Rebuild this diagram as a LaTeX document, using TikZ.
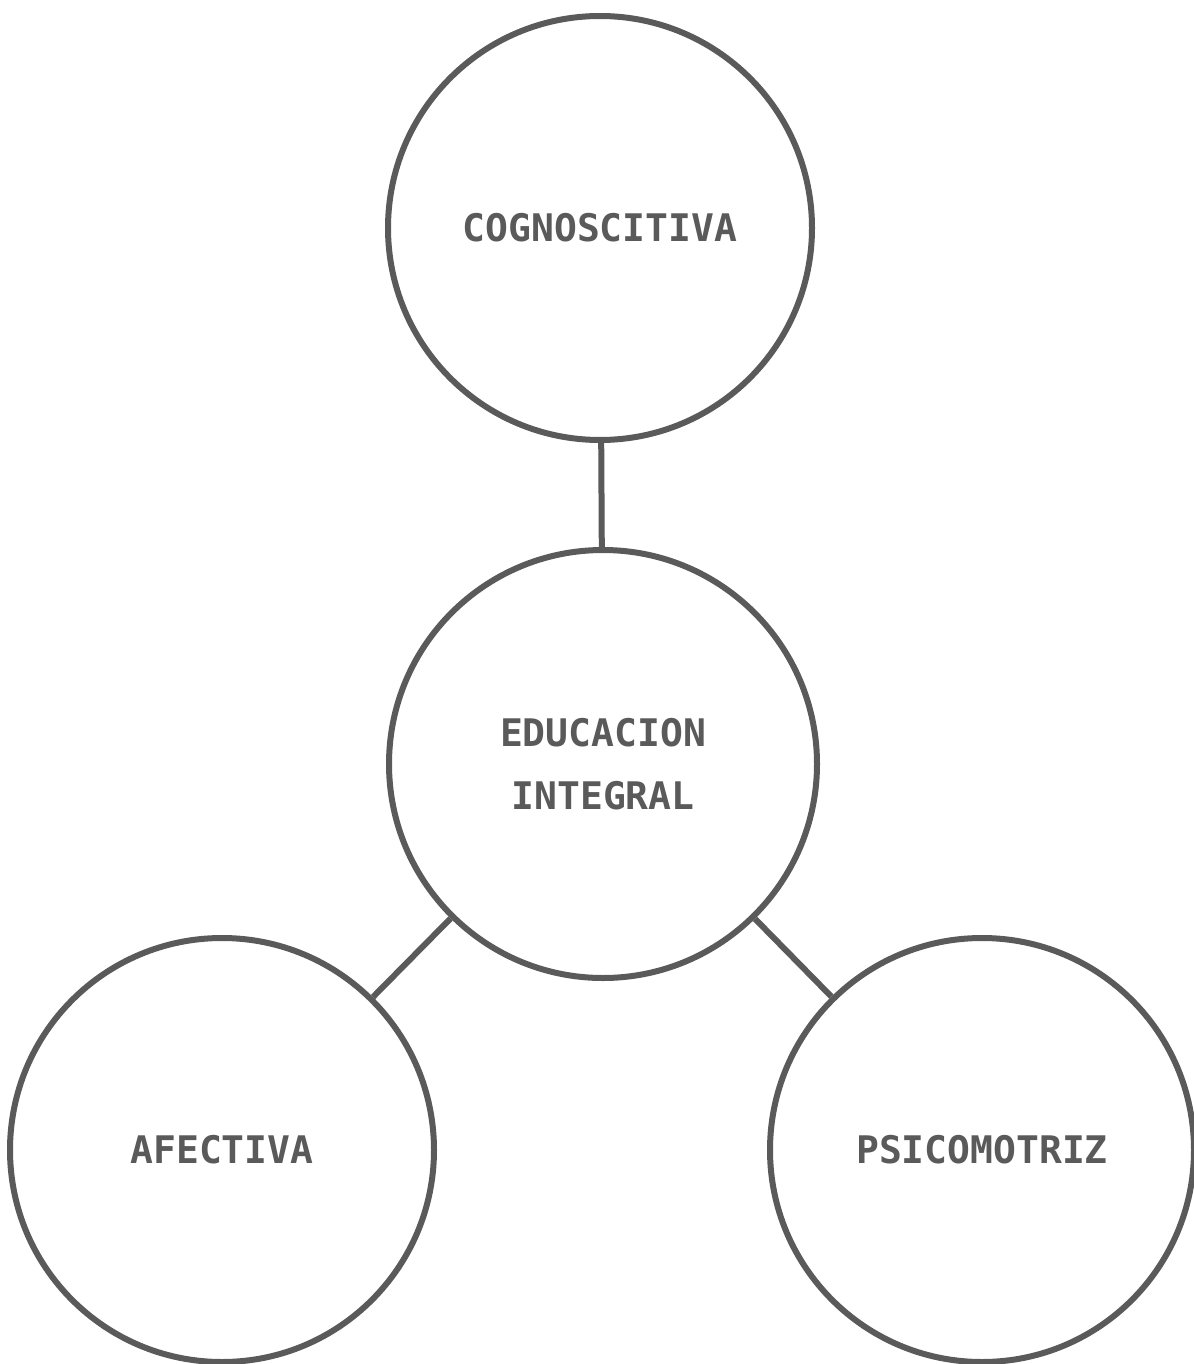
\documentclass[tikz,border=0pt]{standalone}
\usepackage{fontspec}
\newfontfamily\plotfont{DejaVu Sans Mono}[BoldFont={* Bold}]
\definecolor{ink}{HTML}{5A5A5A}
\begin{document}
\begin{tikzpicture}[x=0.5pt,y=-0.5pt,
  bubble/.style={circle,draw=ink,line width=3pt,minimum size=212pt,inner sep=0pt,
    font=\plotfont\bfseries\fontsize{19}{31.5}\selectfont,text=ink,align=center},
  link/.style={draw=ink,line width=3pt}]
\useasboundingbox (0,0) rectangle (1193,1364);
\fill[white] (0,0) rectangle (1193,1364);
\node[bubble] (top) at (600,228) {COGNOSCITIVA};
\node[bubble,minimum size=214pt] (mid) at (603,764) {EDUCACION\\INTEGRAL};
\node[bubble] (left) at (222,1150) {AFECTIVA};
\node[bubble] (right) at (982,1150) {PSICOMOTRIZ};
\draw[link] (top) -- (mid);
\draw[link] (mid) -- (left);
\draw[link] (mid) -- (right);
\end{tikzpicture}
\end{document}
